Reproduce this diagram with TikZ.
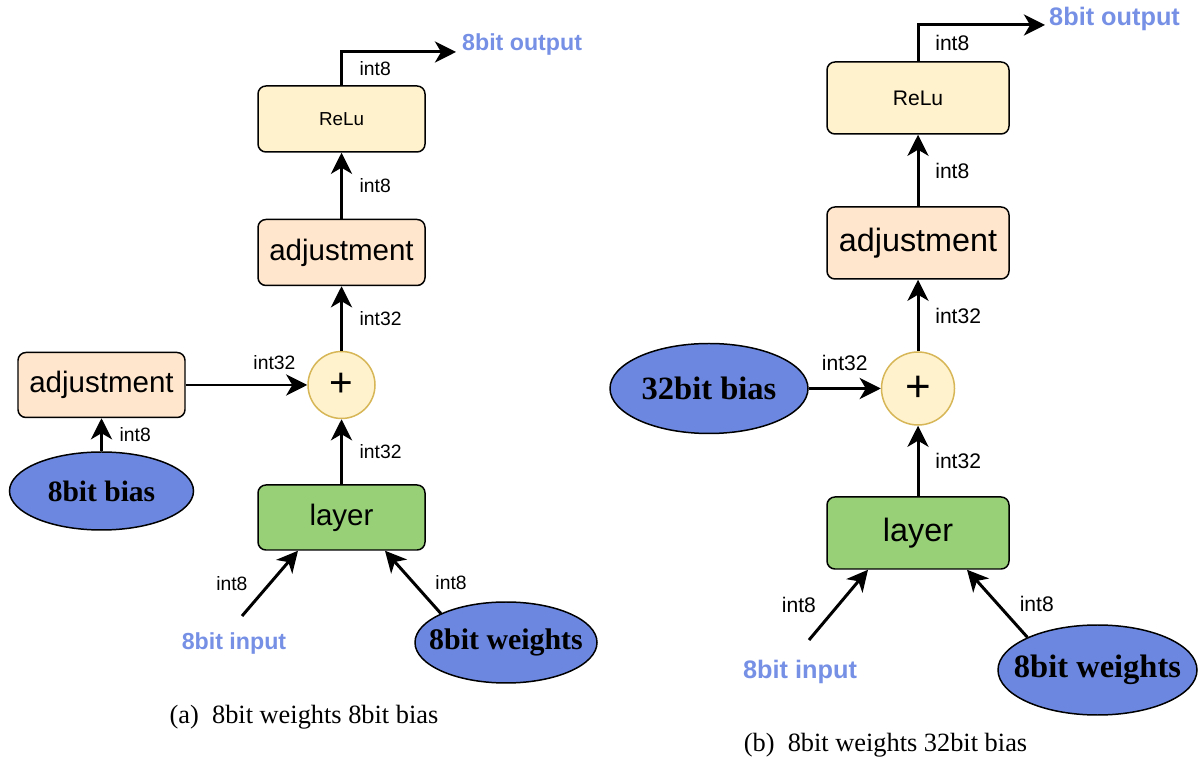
\documentclass[tikz,border=0pt]{standalone}
\usepackage{tikz}
\usepackage{fontspec}
\setmainfont{Liberation Serif}
\setsansfont{Liberation Sans}
\definecolor{reluyellow}{HTML}{FFF2CC}
\definecolor{adjpeach}{HTML}{FFE6CC}
\definecolor{layergreen}{HTML}{97D077}
\definecolor{sumgold}{HTML}{D6B656}
\definecolor{srcblue}{RGB}{108,135,224}
\definecolor{ioblue}{RGB}{118,144,229}
\usetikzlibrary{shapes,arrows.meta,positioning,calc}

\begin{document}
\begin{tikzpicture}[
    box/.style={draw, rounded corners=4.5pt, line width=0.85pt, inner sep=0pt},
    relu/.style={box, fill=reluyellow},
    adj/.style={box, fill=adjpeach},
    lay/.style={box, fill=layergreen},
    sum/.style={circle, draw=sumgold, fill=reluyellow, line width=0.85pt, inner sep=0pt},
    src/.style={ellipse, draw, fill=srcblue, line width=0.85pt, inner sep=0pt},
    sizeA/.style={minimum width=3.34cm, minimum height=1.32cm},
    sizeB/.style={minimum width=3.64cm, minimum height=1.44cm},
    flow/.style={-{Stealth[length=12pt,width=12pt,inset=3.5pt]}, line width=1.7pt},
    lblA/.style={font=\sffamily\fontsize{11}{13}\selectfont, inner sep=1pt},
    lblB/.style={font=\sffamily\fontsize{12}{14}\selectfont, inner sep=1pt}
]
\useasboundingbox (0,0) rectangle (24.02,15.3);

% (a) 8bit weights, 8bit bias
\node[relu, sizeA, font=\sffamily\fontsize{10.7}{12}\selectfont] (reluA) at (6.83,12.92) {ReLu};
\node[adj, sizeA, font=\sffamily\fontsize{16.8}{19}\selectfont] (adjA) at (6.83,10.25) {adjustment};
\node[sum, minimum size=1.34cm, font=\sffamily\fontsize{23}{25}\selectfont] (plusA) at (6.83,7.6) {+};
\node[lay, sizeA, minimum height=1.3cm, font=\sffamily\fontsize{16.8}{19}\selectfont] (layerA) at (6.83,4.95) {layer};
\node[adj, sizeA, minimum height=1.3cm, font=\sffamily\fontsize{16.8}{19}\selectfont] (adjL) at (2.03,7.6) {adjustment};
\node[src, minimum width=3.68cm, minimum height=1.56cm, font=\bfseries\fontsize{16.8}{19}\selectfont] (biasA) at (2.03,5.48) {\makebox[0pt]{8bit bias}};
\node[src, minimum width=3.64cm, minimum height=1.62cm, font=\bfseries\fontsize{17}{19}\selectfont] (weightsA) at (10.12,2.45) {\makebox[0pt]{8bit weights}};
\node[text=ioblue, font=\sffamily\bfseries\fontsize{13.2}{15}\selectfont] (inputA) at (4.68,2.42) {8bit input};
\node[text=ioblue, anchor=west, font=\sffamily\bfseries\fontsize{13.2}{15}\selectfont] (outputA) at (9.12,14.4) {8bit output};
\coordinate (inA) at (4.84,2.98);
\coordinate (outA) at (9.12,14.26);

\draw[flow] (reluA.north) |- node[lblA, right=8.5pt, pos=0.25] {int8} (outA);
\draw[flow] (adjA) -- node[lblA, right=8.5pt] {int8} (reluA);
\draw[flow] (plusA) -- node[lblA, right=8.5pt] {int32} (adjA);
\draw[flow] (layerA) -- node[lblA, right=8.5pt] {int32} (plusA);
\draw[flow] (adjL) -- node[lblA, above=7pt, pos=0.73] {int32} (plusA);
\draw[flow] (biasA) -- node[lblA, right=8.5pt] {int8} (adjL);
\draw[flow] (inA) -- node[lblA, left=11pt] {int8} ($(layerA.south)+(-0.87,0)$);
\draw[flow] (weightsA.156) -- node[lblA, right=11pt] {int8} ($(layerA.south)+(0.87,0)$);

\node[font=\rmfamily\fontsize{15}{18}\selectfont] (capA) at (6.08,0.96) {(a)\enspace 8bit weights 8bit bias};

% (b) 8bit weights, 32bit bias
\node[relu, sizeB, font=\sffamily\fontsize{12}{14}\selectfont] (reluB) at (18.36,13.34) {ReLu};
\node[adj, sizeB, font=\sffamily\fontsize{18.4}{21}\selectfont] (adjB) at (18.36,10.44) {adjustment};
\node[sum, minimum size=1.46cm, font=\sffamily\fontsize{25}{27}\selectfont] (plusB) at (18.36,7.53) {+};
\node[lay, sizeB, font=\sffamily\fontsize{18.4}{21}\selectfont] (layerB) at (18.36,4.64) {layer};
\node[src, minimum width=3.96cm, minimum height=1.8cm, font=\bfseries\fontsize{18.5}{21}\selectfont] (biasB) at (14.18,7.53) {\makebox[0pt]{32bit bias}};
\node[src, minimum width=3.98cm, minimum height=1.8cm, font=\bfseries\fontsize{18.5}{21}\selectfont] (weightsB) at (21.95,1.9) {\makebox[0pt]{8bit weights}};
\node[text=ioblue, font=\sffamily\bfseries\fontsize{14.4}{16}\selectfont] (inputB) at (16.0,1.86) {8bit input};
\node[text=ioblue, anchor=west, font=\sffamily\bfseries\fontsize{14.4}{16}\selectfont] (outputB) at (20.86,14.92) {8bit output};
\coordinate (inB) at (16.18,2.5);
\coordinate (outB) at (20.9,14.8);

\draw[flow] (reluB.north) |- node[lblB, right=8pt, pos=0.25] {int8} (outB);
\draw[flow] (adjB) -- node[lblB, right=8pt] {int8} (reluB);
\draw[flow] (plusB) -- node[lblB, right=8pt] {int32} (adjB);
\draw[flow] (layerB) -- node[lblB, right=8pt] {int32} (plusB);
\draw[flow] (biasB) -- node[lblB, above=8pt] {int32} (plusB);
\draw[flow] (inB) -- node[lblB, left=11pt] {int8} ($(layerB.south)+(-1.0,0)$);
\draw[flow] (weightsB.155) -- node[lblB, right=11pt] {int8} ($(layerB.south)+(0.98,0)$);

\node[font=\rmfamily\fontsize{15}{18}\selectfont] (capB) at (17.71,0.4) {(b)\enspace 8bit weights 32bit bias};
\end{tikzpicture}
\end{document}
